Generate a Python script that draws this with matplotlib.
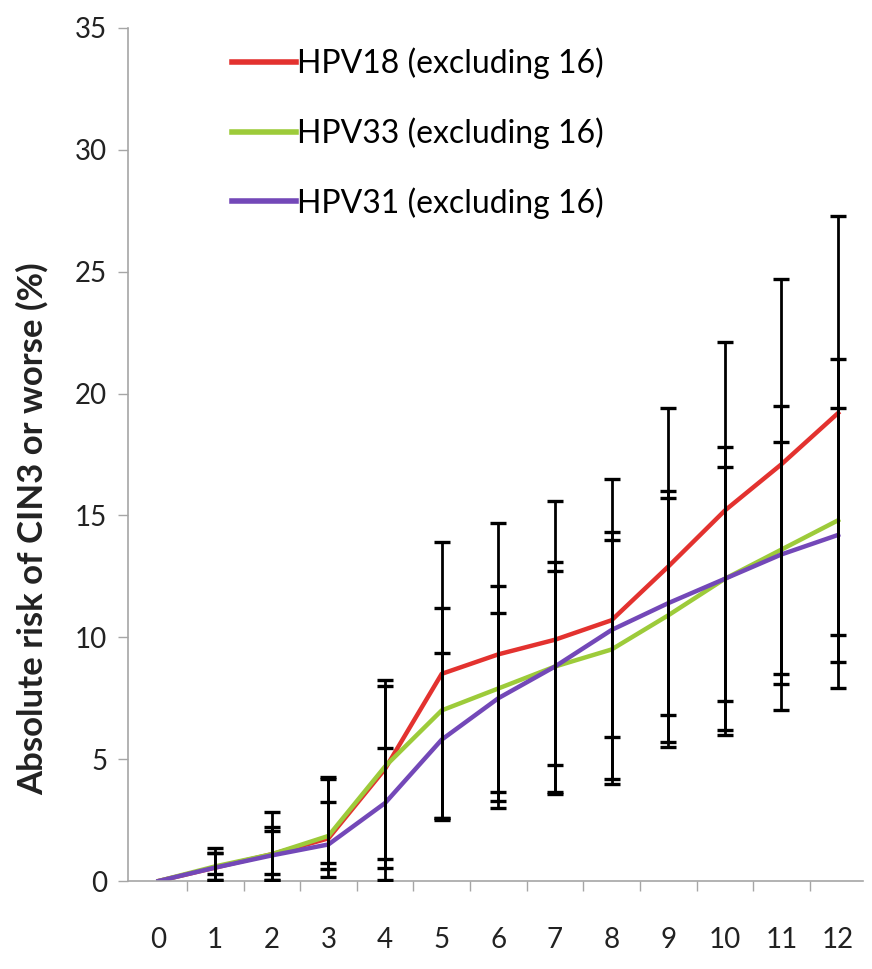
import matplotlib

matplotlib.use("Agg")

import matplotlib.pyplot as plt  # noqa: E402
import numpy as np  # noqa: E402

plt.rcParams["font.family"] = ["Lato", "DejaVu Sans"]

years = list(range(13))

# absolute risk (%) per year of follow-up, with lower / upper confidence limits
hpv18 = [0, 0.55, 1.1, 1.75, 4.6, 8.5, 9.3, 9.9, 10.7, 12.9, 15.2, 17.1, 19.2]
hpv18_lo = [0, 0.3, 0.3, 0.75, 0.9, 2.6, 3.65, 4.75, 5.9, 6.8, 7.4, 8.5, 10.1]
hpv18_hi = [0, 1.35, 2.85, 4.25, 8.25, 13.9, 14.7, 15.6, 16.5, 19.4, 22.1, 24.7, 27.3]

hpv33 = [0, 0.6, 1.1, 1.85, 4.7, 7.0, 7.9, 8.8, 9.5, 10.9, 12.4, 13.6, 14.8]
hpv33_lo = [0, 0.05, 0.05, 0.5, 0.55, 2.6, 3.3, 3.65, 4.2, 5.7, 6.2, 8.1, 9.0]
hpv33_hi = [0, 1.15, 2.2, 4.2, 8.0, 11.2, 12.1, 13.1, 14.3, 16.0, 17.8, 19.5, 21.4]

hpv31 = [0, 0.55, 1.05, 1.5, 3.2, 5.8, 7.5, 8.8, 10.3, 11.4, 12.4, 13.4, 14.2]
hpv31_lo = [0, 0.05, 0.05, 0.15, 0.05, 2.5, 3.0, 3.55, 4.0, 5.5, 6.0, 7.0, 7.9]
hpv31_hi = [0, 1.15, 2.05, 3.25, 5.45, 9.35, 11.0, 12.7, 14.0, 15.7, 17.0, 18.0, 19.4]

series = [
    ("HPV18 (excluding 16)", hpv18, hpv18_lo, hpv18_hi, "#e3322f"),
    ("HPV33 (excluding 16)", hpv33, hpv33_lo, hpv33_hi, "#9dcb3a"),
    ("HPV31 (excluding 16)", hpv31, hpv31_lo, hpv31_hi, "#7348b8"),
]

AXIS_GREY = "#a6a6a6"

fig = plt.figure(figsize=(8.72, 9.69), dpi=100)
ax = fig.add_axes([128 / 872, 88 / 969, 735 / 872, 853 / 969])

for label, vals, lo, hi, color in series:
    vals = np.array(vals)
    err = [vals - np.array(lo), np.array(hi) - vals]
    ax.plot(years, vals, color=color, lw=3.2, label=label, zorder=2)
    ax.errorbar(years[1:], vals[1:], yerr=[err[0][1:], err[1][1:]], fmt="none",
                ecolor="black", elinewidth=2.0, capsize=6, capthick=2.4, zorder=3)

ax.set_xlim(-0.54, 12.44)
ax.set_ylim(0, 35)
ax.set_yticks(range(0, 36, 5))
ax.set_xticks(years)
ax.set_xticks([k + 0.5 for k in range(12)], minor=True)

for side in ("top", "right"):
    ax.spines[side].set_visible(False)
for side in ("left", "bottom"):
    ax.spines[side].set_color(AXIS_GREY)
    ax.spines[side].set_linewidth(1.2)

ax.tick_params(axis="x", which="major", length=0, pad=33, labelsize=20, colors="#222222")
ax.tick_params(axis="x", which="minor", length=7, width=1, color=AXIS_GREY, direction="out")
ax.tick_params(axis="y", length=7, width=1, color=AXIS_GREY, pad=8, labelsize=20,
               labelcolor="#222222")

ax.set_ylabel("Absolute risk of CIN3 or worse (%)", fontsize=25, fontweight="bold",
              color="#222222")
ax.yaxis.set_label_coords(-0.108, 0.413)

leg = ax.legend(loc="upper left", bbox_to_anchor=(0.115, 1.0), frameon=False, fontsize=23,
                handlelength=2.0, handletextpad=0.05, labelspacing=1.2, borderaxespad=0.2)
for line in leg.get_lines():
    line.set_linewidth(4)

fig.savefig("out.png", dpi=100)
